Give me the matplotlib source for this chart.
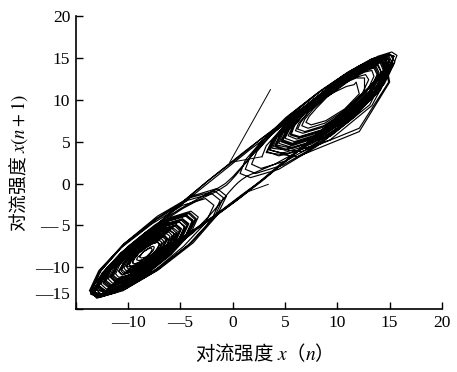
import numpy as np
import matplotlib
matplotlib.use("Agg")
import matplotlib.pyplot as plt
from matplotlib.transforms import ScaledTranslation

plt.rcParams["font.family"] = ["Liberation Serif", "Noto Sans CJK SC", "DejaVu Sans"]
plt.rcParams["mathtext.fontset"] = "stix"

# convection intensity x(n)
right_a = [2.8, 3.2, 4.5, 6.3, 8.5, 10.7, 12.5, 13.8, 14.2,
           13.3, 11.0, 8.0, 5.7, 4.8,
           5.2, 6.2, 7.9, 9.8, 11.6, 13.3, 14.3, 14.7,
           13.7, 11.0, 7.7, 5.0, 4.0,
           4.4, 5.6, 7.5, 9.6, 11.7, 13.6, 14.8, 15.2,
           14.1, 11.1, 7.4, 4.4, 3.3,
           3.8, 5.1, 7.1, 9.4, 11.7, 13.7, 15.0, 15.5,
           14.5, 11.9, 8.4, 4.8, 2.2, 1.2,
           1.7, 3.3, 5.6, 8.3, 11.0, 13.3, 14.9, 15.4]
down_a = [15.2, 14.5, 13.3, 11.7, 9.9, 7.7, 5.3, 2.9, 0.5, -1.9, -4.1,
          -5.9, -7.5, -8.7, -9.4, -9.6]
left_a = [-9.4, -9.0, -8.3, -7.7, -7.2, -7.0,
          -7.2, -7.8, -8.6, -9.4, -10.0, -10.2,
          -9.9, -9.2, -8.3, -7.3, -6.6, -6.3,
          -6.6, -7.5, -8.6, -9.8, -10.6, -10.9,
          -10.5, -9.6, -8.3, -6.9, -6.0, -5.6,
          -6.0, -7.1, -8.6, -10.1, -11.2, -11.6,
          -11.2, -10.0, -8.3, -6.7, -5.4, -5.0,
          -5.5, -6.8, -8.6, -10.4, -11.7, -12.2,
          -11.7, -10.3, -8.3, -6.4, -4.9, -4.4,
          -5.0, -6.5, -8.6, -10.7, -12.2, -12.8,
          -12.2, -10.6, -8.3, -6.1, -4.4, -3.8,
          -4.4, -6.2, -8.6, -11.0, -12.8, -13.4,
          -12.6, -10.4, -7.3, -4.3, -2.0, -1.2,
          -2.0, -4.3, -7.4, -10.5, -12.8, -13.6]
up_a = [-13.2, -12.0, -10.0, -7.5, -5.0, -3.0, -1.6, -0.7, 0.0, 0.8, 1.9,
        3.5, 5.6, 8.0, 10.3, 11.8, 12.6]
right_b = [12.6, 10.9, 8.7, 6.9, 6.2,
           6.5, 7.3, 8.6, 10.1, 11.6, 12.9, 13.7, 14.0,
           13.2, 11.0, 8.3, 6.1, 5.3,
           5.7, 6.7, 8.2, 10.0, 11.7, 13.2, 14.3, 14.6,
           13.6, 11.1, 7.9, 5.4, 4.4,
           4.8, 6.0, 7.7, 9.7, 11.7, 13.5, 14.6, 15.0,
           13.9, 11.1, 7.5, 4.7, 3.6,
           4.0, 5.3, 7.2, 9.5, 11.7, 13.6, 14.9, 15.3,
           14.3, 11.7, 8.0, 4.4, 1.7, 0.7,
           1.2, 2.8, 5.1, 7.9, 10.6, 12.9, 14.5, 15.0]
down_b = [14.8, 14.1, 13.0, 11.5, 9.7, 7.6, 5.4, 3.1, 0.7, -1.5, -3.6,
          -5.4, -6.9, -8.0, -8.7, -8.9]
left_b = [-8.8, -8.6, -8.2, -7.9, -7.6, -7.5,
          -7.6, -8.0, -8.6, -9.1, -9.5, -9.6,
          -9.4, -8.9, -8.2, -7.5, -7.0, -6.8,
          -7.0, -7.7, -8.6, -9.5, -10.2, -10.4,
          -10.1, -9.3, -8.2, -7.1, -6.3, -6.0,
          -6.3, -7.3, -8.6, -9.9, -10.9, -11.2,
          -10.8, -9.7, -8.3, -6.8, -5.7, -5.3,
          -5.7, -7.0, -8.6, -10.3, -11.5, -11.9,
          -11.4, -10.1, -8.3, -6.4, -5.1, -4.6,
          -5.1, -6.6, -8.6, -10.6, -12.1, -12.6,
          -12.0, -10.4, -8.3, -6.1, -4.5, -3.9,
          -4.5, -6.2, -8.6, -10.9, -12.6, -13.2,
          -12.5, -10.7, -8.3, -5.8, -4.0, -3.3,
          -4.0, -5.9, -8.5, -11.1, -13.0, -13.7,
          -12.8, -10.4, -7.2, -3.9, -1.5, -0.6,
          -1.5, -3.8, -7.1, -10.3, -12.6, -13.5]
up_b = [-13.2, -12.5, -11.2, -9.5, -7.4, -5.1, -2.5, 0.2, 2.8, 5.4, 7.7,
        9.8, 11.5, 12.8, 13.5, 13.8]
right_c = [13.0, 10.9, 8.4, 6.3, 5.5,
           5.8, 6.8, 8.3, 10.0, 11.7, 13.1, 14.1, 14.4,
           13.5, 11.0, 8.0, 5.5, 4.6,
           5.0, 6.1, 7.8, 9.8, 11.8, 13.5, 14.6, 15.0,
           13.3, 9.3, 5.2, 3.5,
           4.0, 5.3, 7.3, 9.6, 11.9, 13.9, 15.2, 15.7]
down_c = [15.3, 14.0, 11.9, 9.3, 6.5, 4.0, 2.3, 1.4, 0.9, 0.5, 0.1, -0.4,
          -1.1, -2.2, -3.8, -5.9, -7.9, -9.3, -10.1]
left_c = [-9.9, -9.2, -8.3, -7.3, -6.7, -6.4,
          -6.7, -7.5, -8.7, -9.8, -10.6, -10.9,
          -10.5, -9.6, -8.3, -6.9, -6.0, -5.6,
          -6.0, -7.1, -8.7, -10.2, -11.3, -11.7,
          -11.2, -10.0, -8.3, -6.6, -5.4, -4.9,
          -5.4, -6.8, -8.7, -10.5, -11.9, -12.4,
          -11.9, -10.4, -8.3, -6.3, -4.8, -4.2,
          -4.8, -6.4, -8.6, -10.8, -12.4, -13.0,
          -12.4, -10.7, -8.3, -6.0, -4.2, -3.6,
          -4.3, -6.1, -8.6, -11.1, -12.9, -13.6,
          -12.8, -10.7, -7.7, -4.8, -2.6, -1.8,
          -2.6, -4.7, -7.5, -10.4, -12.4, -13.2]
up_c = [-13.0, -12.3, -11.1, -9.5, -7.7, -5.5, -3.1, -0.7, 1.7, 4.1, 6.3,
        8.1, 9.7, 10.9, 11.6, 11.8]
right_d = [12.1, 10.7, 8.9, 7.5, 7.0,
           7.3, 8.0, 9.0, 10.3, 11.5, 12.6, 13.3, 13.5,
           12.8, 10.9, 8.6, 6.7, 6.0,
           6.3, 7.2, 8.5, 10.1, 11.7, 13.0, 13.9, 14.2,
           13.3, 11.0, 8.2, 5.9, 5.0,
           5.4, 6.4, 8.0, 9.9, 11.8, 13.4, 14.4, 14.8,
           13.8, 11.1, 7.8, 5.1, 4.1,
           4.5, 5.7, 7.5, 9.6, 11.7, 13.5, 14.7, 15.1,
           14.2, 11.8, 8.5, 5.1, 2.7, 1.8,
           2.3, 3.8, 6.0, 8.6, 11.2, 13.4, 14.9, 15.4]
down_d = [15.2, 14.5, 13.3, 11.8, 9.9, 7.8, 5.5, 3.1, 0.7, -1.6, -3.7,
          -5.6, -7.1, -8.3, -9.0, -9.2]
left_d = [-9.1, -8.8, -8.5, -8.1, -7.8, -7.7,
          -7.9, -8.3, -8.8, -9.4, -9.8, -9.9,
          -9.7, -9.2, -8.5, -7.7, -7.2, -7.0,
          -7.3, -7.9, -8.9, -9.8, -10.5, -10.7,
          -10.4, -9.6, -8.5, -7.3, -6.5, -6.2,
          -6.6, -7.5, -8.9, -10.2, -11.1, -11.5,
          -11.1, -10.0, -8.5, -6.9, -5.8, -5.4,
          -5.9, -7.1, -8.9, -10.6, -11.8, -12.3,
          -11.8, -10.4, -8.5, -6.5, -5.1, -4.6,
          -5.2, -6.7, -8.8, -10.8, -12.3, -12.9,
          -12.3, -10.6, -8.4, -6.1, -4.4, -3.8,
          -4.5, -6.2, -8.7, -11.1, -12.9, -13.5,
          -12.7, -10.4, -7.2, -4.1, -1.7, -0.9,
          -1.7, -3.9, -7.0, -10.0, -12.2, -13.0]
up_d = [-12.7, -12.0, -10.7, -9.0, -6.9, -4.5, -1.9, 0.8, 3.5, 6.1, 8.5,
        10.6, 12.3, 13.6, 14.3, 14.6]
right_e = [13.1, 9.4, 5.7, 4.2,
           4.6, 5.8, 7.5, 9.6, 11.7, 13.4, 14.6, 15.0,
           12.1, 6.2, 3.2,
           3.7, 5.0, 7.0, 9.3, 11.6, 13.6, 14.9, 15.4]
down_e = [15.2, 14.4, 13.3, 11.7, 9.8, 7.6, 5.2, 2.8, 0.3, -2.1, -4.3,
          -6.2, -7.8, -8.9, -9.7, -9.9]
left_e = [-9.7, -9.1, -8.3, -7.4, -6.8, -6.6,
          -6.9, -7.6, -8.6, -9.6, -10.3, -10.6,
          -10.3, -9.4, -8.2, -7.0, -6.1, -5.8,
          -6.2, -7.2, -8.6, -10.0, -11.0, -11.4,
          -11.0, -9.8, -8.3, -6.7, -5.5, -5.1,
          -5.6, -6.9, -8.6, -10.4, -11.6, -12.1,
          -11.6, -10.2, -8.2, -6.3, -4.8, -4.3,
          -4.9, -6.4, -8.6, -10.7, -12.2, -12.8,
          -12.2, -10.5, -8.2, -5.8, -4.1, -3.5,
          -4.2, -6.0, -8.4, -10.9, -12.6, -13.3]
up_e = [-13.1, -12.3, -11.0, -9.2, -7.0, -4.8, -3.0, -1.8, -1.1, -0.6, -0.2,
        0.3, 1.0, 2.1, 3.7, 5.8, 8.1, 10.2, 11.8, 12.7, 13.0]
right_f = [12.4, 10.8, 8.8, 7.2, 6.6,
           6.9, 7.7, 8.9, 10.3, 11.6, 12.8, 13.6, 13.9,
           13.1, 11.0, 8.5, 6.4, 5.6,
           5.9, 6.9, 8.4, 10.1, 11.8, 13.2, 14.2, 14.5,
           13.6, 11.1, 8.1, 5.6, 4.7,
           5.1, 6.2, 7.9, 9.8, 11.8, 13.4, 14.5, 14.9,
           12.1, 6.6, 3.8,
           4.2, 5.5, 7.3, 9.5, 11.7, 13.5, 14.8, 15.2]

# start-up transient and a small kink near the origin
start_xn = [3.6, -0.3]
start_xn1 = [11.2, 2.5]
kink_xn = [4.8, 1.4, 3.4]
kink_xn1 = [2.6, -1.0, -0.1]

ticks = [-15, -10, -5, 0, 5, 10, 15, 20]
xtick_labels = ["", "—10", "—5", "0", "5", "10", "15", "20"]
ytick_labels = ["—15", "—10", "— 5", "0", "5", "10", "15", "20"]

x = np.array(right_a + down_a + left_a + up_a + right_b + down_b + left_b
             + up_b + right_c + down_c + left_c + up_c + right_d + down_d
             + left_d + up_d + right_e + down_e + left_e + up_e + right_f)

fig = plt.figure(figsize=(4.57, 3.72), dpi=100)
ax = fig.add_axes([0.166, 0.169, 0.801, 0.788])

lc = "black"
ax.plot(x[:-1], x[1:], color=lc, lw=0.85)
ax.plot(start_xn + [x[0]], start_xn1 + [x[1]], color=lc, lw=0.7)
ax.plot(kink_xn, kink_xn1, color=lc, lw=0.7)

ax.set_xlim(-15, 20)
ax.set_ylim(-15, 20)
for s in ["top", "right"]:
    ax.spines[s].set_visible(False)
for s in ["left", "bottom"]:
    ax.spines[s].set_linewidth(1.2)

ax.set_xticks(ticks)
ax.set_xticklabels(xtick_labels)
ax.set_yticks(ticks)
ax.set_yticklabels(ytick_labels)
ax.tick_params(direction="in", length=5, width=1, labelsize=12.5, pad=4)

# lowest y label sits a bit above the corner
ylabs = ax.get_yticklabels()
ylabs[0].set_transform(ylabs[0].get_transform()
                       + ScaledTranslation(0, 0.16, fig.dpi_scale_trans))

cjk = ["Noto Sans CJK SC", "DejaVu Sans"]
ax.set_xlabel("对流强度 $x$（$n$）", family=cjk, fontsize=14, labelpad=9)
ax.set_ylabel("对流强度 $x(n+1)$", family=cjk, fontsize=13.5, labelpad=4)

fig.savefig("out.png", dpi=100)
